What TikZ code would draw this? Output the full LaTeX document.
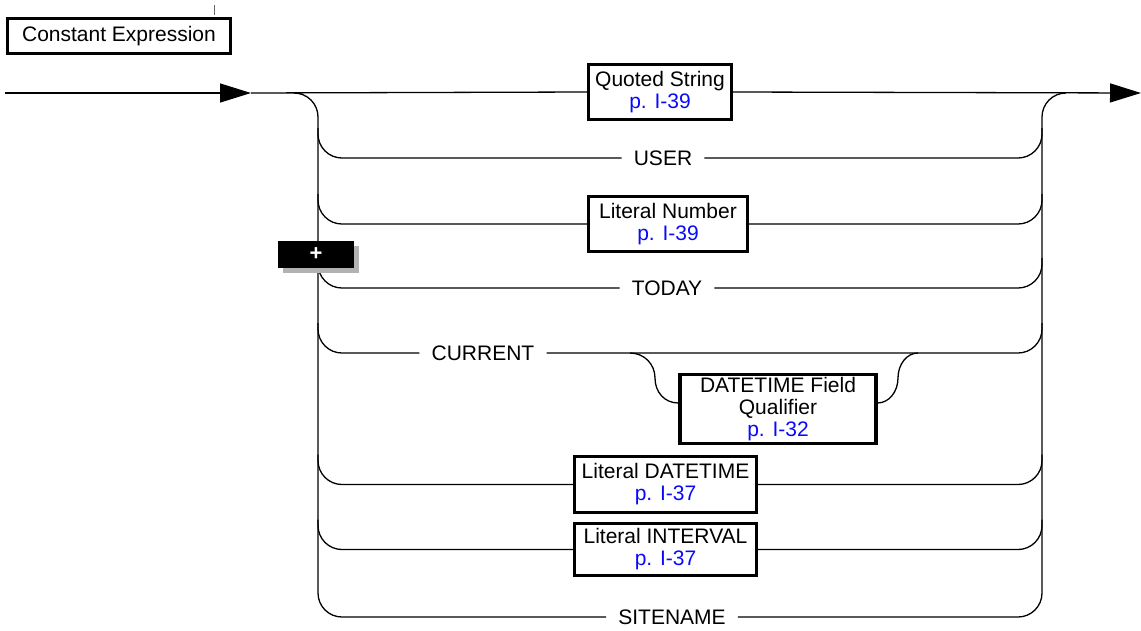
\documentclass[tikz,border=0pt]{standalone}
\usepackage{fontspec}
\setmainfont{Liberation Sans}
\usetikzlibrary{arrows.meta}
\newcommand\dgfont{\fontsize{21}{22}\selectfont}
\definecolor{linkblue}{RGB}{10,10,250}
\newcommand\plink[1]{\textcolor{linkblue}{#1}}
\begin{document}
\begin{tikzpicture}[x=1pt,y=-1pt,
  ln/.style={line width=1.3pt,black},
  refbox/.style={draw=black,line width=3.2pt,fill=white,align=center,font=\dgfont,
    inner xsep=4pt,inner ysep=1pt,minimum height=55pt},
  kw/.style={fill=white,inner xsep=12pt,inner ysep=2pt,font=\dgfont},
  rc/.style={rounded corners=24pt},
  bigarrow/.style={-{Triangle[length=31pt,width=19pt]}}
]
\useasboundingbox (0,0) rectangle (1141,630);

% title box
\node[draw=black,line width=3pt,font=\dgfont,minimum width=223pt,minimum height=35pt,inner sep=0pt] (ce) at (119,36) {Constant Expression};
\coordinate (tick) at (214,5);
\draw[line width=1pt,black!60] (tick) -- ([yshift=2pt]tick |- ce.north);

% rail reference coordinates
\coordinate (rl) at (318,0);
\coordinate (rr) at (1042,0);
\coordinate (start) at (5,93);
\coordinate (ls) at (294,93);
\coordinate (re) at (1066,93);
\coordinate (a1) at (251,93);
\coordinate (a2) at (1141,93);

% choices
\node[refbox,minimum width=143pt] (qs) at (660,92) {Quoted String\\\plink{p. I-39}};
\node[kw] (user) at (663,158) {USER};
\node[refbox,minimum width=159pt] (lnum) at (668,224) {Literal Number\\\plink{p. I-39}};
\node[kw] (today) at (667,288) {TODAY};
\node[kw] (cur) at (483,353) {CURRENT};
\node[refbox,minimum width=196pt,minimum height=69pt] (dfq) at (778,409) {DATETIME Field\\Qualifier\\\plink{p. I-32}};
\node[refbox,minimum width=182pt,minimum height=56pt] (ldt) at (665.5,484.5) {Literal DATETIME\\\plink{p. I-37}};
\node[refbox,minimum width=182pt,minimum height=52pt] (lint) at (665.5,549.5) {Literal INTERVAL\\\plink{p. I-37}};
\node[kw] (site) at (672,617) {SITENAME};

% main line with arrows
\draw[ln,bigarrow] (start) -- (a1);
\draw[ln] (a1) -- (qs.west);
\draw[ln,bigarrow] (qs.east) -- (a2);

% rails
\draw[ln,rc] (ls) -- (rl |- ls) -- (rl |- site.west) -- (site.west);
\draw[ln,rc] (site.east) -- (rr |- site.east) -- (rr |- re) -- (re);

% left and right branches
\foreach \n in {user,lnum,today,cur,ldt,lint}{
  \draw[ln,rc] ([yshift=30pt]rl |- \n.west) |- (\n.west);
  \draw[ln,rc] (\n.east) -| ([yshift=30pt]rr |- \n.east);
}

% optional qualifier after CURRENT
\coordinate (s1) at (630,353);
\coordinate (s2) at (918,353);
\draw[ln] (s1) .. controls +(14,0) and +(0,-14) .. (655,378)
  .. controls +(0,14) and +(-14,0) .. ([yshift=6pt]dfq.west);
\draw[ln] ([yshift=6pt]dfq.east) .. controls +(11,0) and +(0,14) .. (898,378)
  .. controls +(0,-14) and +(-11,0) .. (s2);

% plus marker
\node[fill=black!30,minimum width=76pt,minimum height=27pt,inner sep=0pt] (plsh) at (321,259.5) {};
\node[fill=black,text=white,font=\fontsize{22}{22}\selectfont\bfseries,minimum width=76pt,minimum height=27pt,inner sep=0pt] (plus) at (316,254.5) {+};
\end{tikzpicture}
\end{document}
